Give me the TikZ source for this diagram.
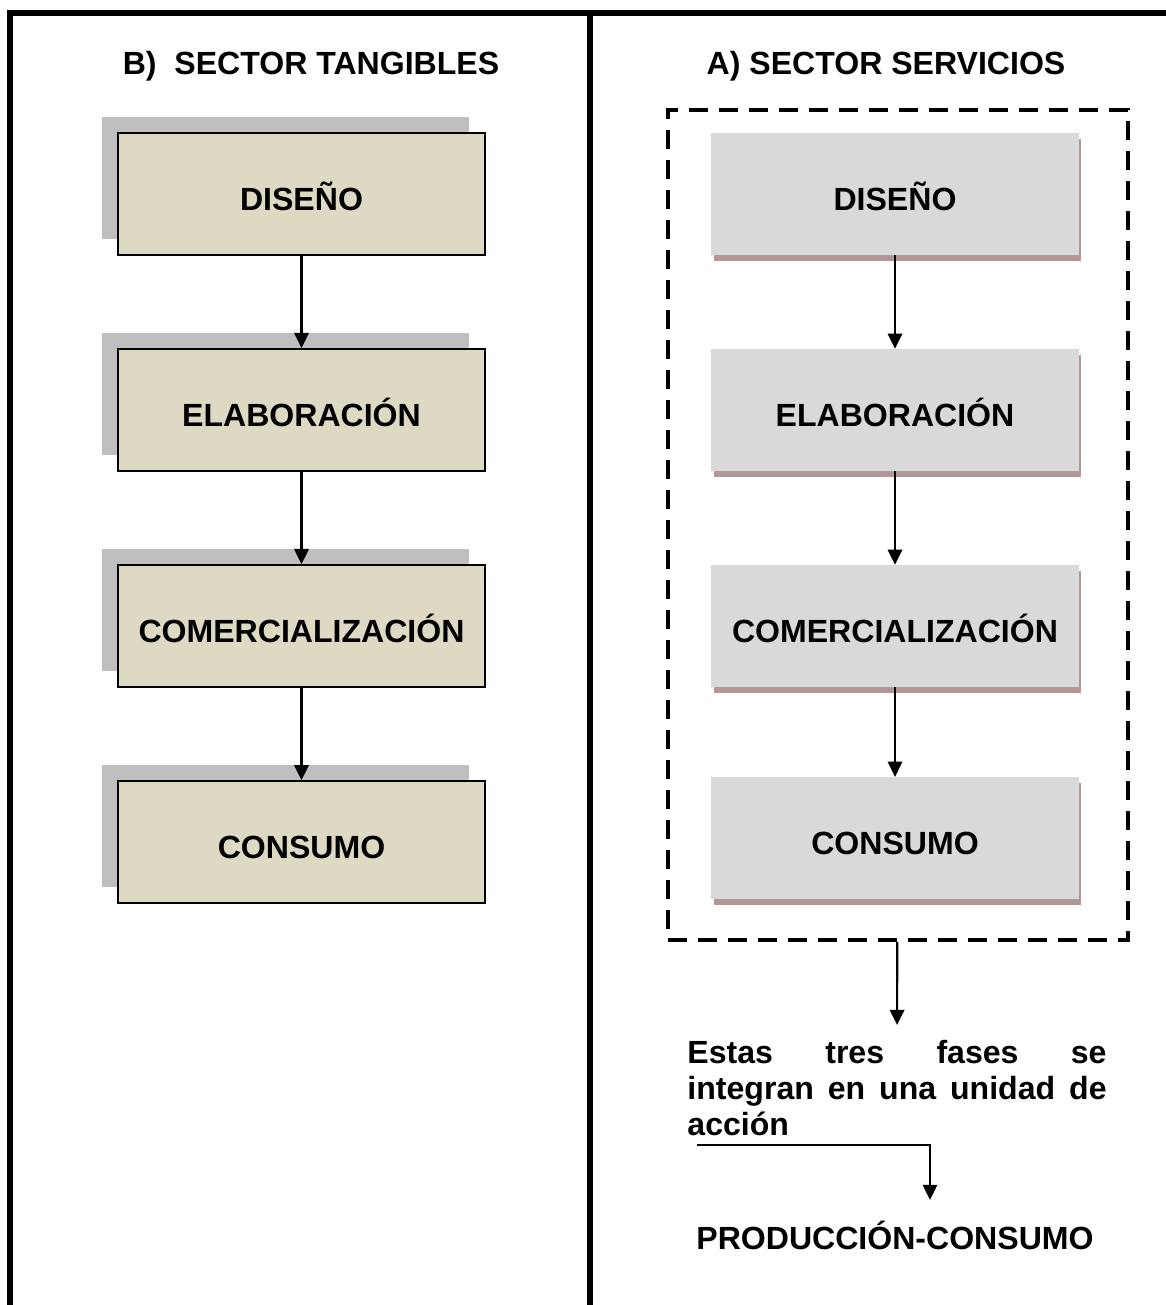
\documentclass[tikz,border=0pt]{standalone}
\usepackage{fontspec}
\setmainfont{Liberation Sans}
\usetikzlibrary{positioning,shadows,arrows.meta}
\definecolor{crema}{HTML}{DDD9C3}
\definecolor{grisclaro}{HTML}{D9D9D9}
\definecolor{sombra}{HTML}{BFBFBF}
\definecolor{sombrarosa}{HTML}{B39797}
\tikzset{
    fase/.style = {rectangle, inner sep=0pt,
        minimum height=3.05cm, text height=23.3pt, text depth=0pt,
        minimum width=9.175cm, align=center},
    tangible/.style = {fase, draw, line width=1.3pt, fill=crema,
        drop shadow={shadow xshift=-0.4cm, shadow yshift=0.4cm, fill=sombra, opacity=1}},
    servicio/.style = {fase, fill=grisclaro,
        drop shadow={shadow xshift=0.06cm, shadow yshift=-0.14cm, fill=sombrarosa, opacity=1}},
    grupo/.style = {draw, rectangle, line width=3pt, dash pattern=on 0.47cm off 0.28cm,
        minimum width=11.5cm, minimum height=20.75cm},
    flecha/.style = {draw, line width=1.5pt, -{Triangle[length=0.38cm,width=0.36cm]}},
    marco/.style = {line width=3.6pt}
}

\begin{document}
\begin{tikzpicture}[x=0.025cm, y=-0.025cm, node distance=5.4cm,
    font=\bfseries\fontsize{22.8}{25.6}\selectfont]
    \useasboundingbox (0,0) rectangle (1166,1305);
    \draw [marco] (10,1305) -- (10,13) -- (1166,13);
    \draw [marco] (590,13) -- (590,1305);
    \node (tituloB) at (311,66) {B)~ SECTOR TANGIBLES};
    \node (tituloA) at (886,66) {A) SECTOR SERVICIOS};
    % sector tangibles
    \node [tangible] (t1) at (301.5,194) {DISEÑO};
    \node [tangible, below of=t1] (t2) {ELABORACIÓN};
    \node [tangible, below of=t2] (t3) {COMERCIALIZACIÓN};
    \node [tangible, below of=t3] (t4) {CONSUMO};
    % sector servicios
    \node [grupo] (caja) at (898,525) {};
    \node [servicio] (s1) at (895,194) {DISEÑO};
    \node [servicio, below of=s1] (s2) {ELABORACIÓN};
    \node [servicio, below of=s2] (s3) {COMERCIALIZACIÓN};
    \node [servicio, below of=s3, node distance=5.3cm] (s4) {CONSUMO};
    \foreach \a/\b in {1/2,2/3,3/4}{
        \draw [flecha] (t\a) -- (t\b);
        \draw [flecha] (s\a) -- (s\b);
    }
    \node [anchor=north, text width=10.475cm, align=justify, inner xsep=0pt, inner ysep=0.37cm] (texto) at (897,1025)
        {Estas tres fases se\linebreak integran en una unidad de\linebreak acción};
    \draw [flecha] (caja) -- (texto);
    \node (prod) at (895,1235) {PRODUCCIÓN-CONSUMO};
    \coordinate (codo0) at (697,1145);
    \coordinate (codo1) at (930,1200);
    \draw [flecha, line width=1.2pt] (codo0) -| (codo1);
\end{tikzpicture}
\end{document}
